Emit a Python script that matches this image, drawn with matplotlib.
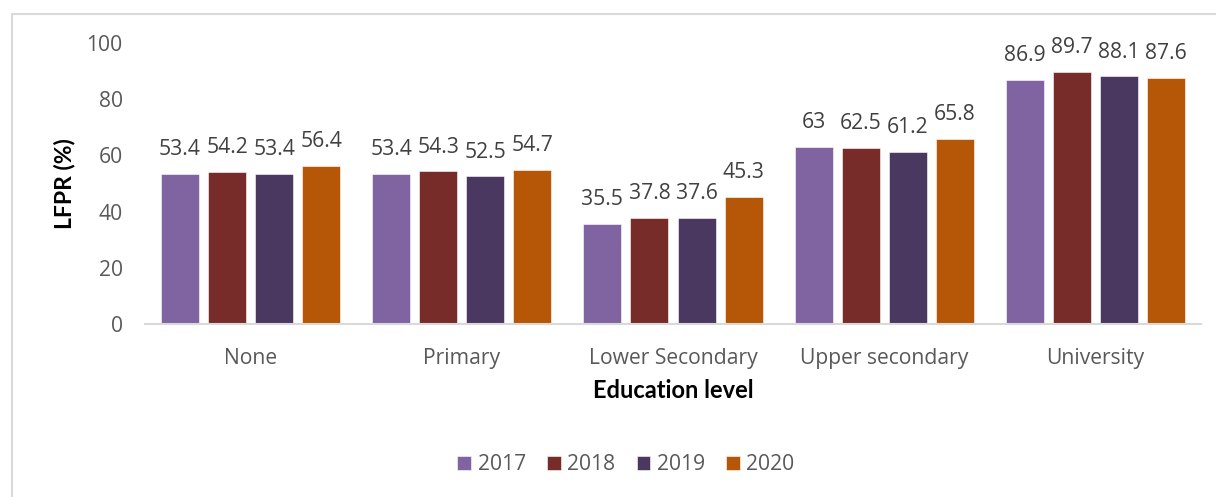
import numpy as np
import matplotlib
matplotlib.use("Agg")
import matplotlib.pyplot as plt
import matplotlib.patches as patches

# Labour force participation rate by education level
levels = ["None", "Primary", "Lower Secondary", "Upper secondary", "University"]
years = ["2017", "2018", "2019", "2020"]
lfpr_2017 = [53.4, 53.4, 35.5, 63, 86.9]
lfpr_2018 = [54.2, 54.3, 37.8, 62.5, 89.7]
lfpr_2019 = [53.4, 52.5, 37.6, 61.2, 88.1]
lfpr_2020 = [56.4, 54.7, 45.3, 65.8, 87.6]
series = [lfpr_2017, lfpr_2018, lfpr_2019, lfpr_2020]
colors = ["#8064A2", "#772C2A", "#4B3861", "#B65708"]

plt.rcParams['font.family'] = ['Open Sans', 'DejaVu Sans']

fig = plt.figure(figsize=(12.16, 4.97), dpi=100)
ax = fig.add_axes([0.1192, 0.3481, 0.8685, 0.5654])

# chart frame
frame = patches.Rectangle((12 / 1216, -0.1), 1.2, 1.1 - 14 / 497,
                          transform=fig.transFigure, fill=False,
                          edgecolor="#D9D9D9", linewidth=1.5, zorder=0)
fig.patches.append(frame)

x = np.arange(len(levels))
width = 0.18
step = 0.223
for i, (vals, col, yr) in enumerate(zip(series, colors, years)):
    pos = x + (i - 1.5) * step
    bars = ax.bar(pos, vals, width, color=col, label=yr,
                  edgecolor="white", linewidth=0.4, zorder=2)
    for b, v in zip(bars, vals):
        ax.annotate(f"{v:g}", (b.get_x() + b.get_width() / 2, v),
                    xytext=(0, 10), textcoords="offset points",
                    ha="center", va="bottom", fontsize=15.2, color="#404040")

ax.set_xlim(-0.5, len(levels) - 0.5)
ax.set_ylim(0, 100)
ax.set_yticks(range(0, 101, 20))
ax.set_xticks(x)
ax.set_xticklabels(levels)
ax.tick_params(axis="both", length=0, labelsize=15.2, labelcolor="#595959")
ax.tick_params(axis="y", pad=16)
ax.tick_params(axis="x", pad=17)
for s in ["top", "right", "left"]:
    ax.spines[s].set_visible(False)
ax.spines["bottom"].set_color("#D9D9D9")
ax.spines["bottom"].set_linewidth(1.5)

ax.set_ylabel("LFPR (%)", fontsize=16.5, fontweight="bold", color="black",
              family=["Lato", "DejaVu Sans"], labelpad=8)
fig.text(673 / 1216, 1 - 390 / 497, "Education level", ha="center", va="center",
         fontsize=17, fontweight="bold", family=["Lato", "DejaVu Sans"])

fig.legend(loc="center", bbox_to_anchor=(626 / 1216, 1 - 465 / 497), ncol=4,
           frameon=False, fontsize=15.2, handlelength=0.66, handleheight=0.66,
           handletextpad=0.3, columnspacing=1.0, labelcolor="#595959")

fig.savefig("out.png", dpi=100)
